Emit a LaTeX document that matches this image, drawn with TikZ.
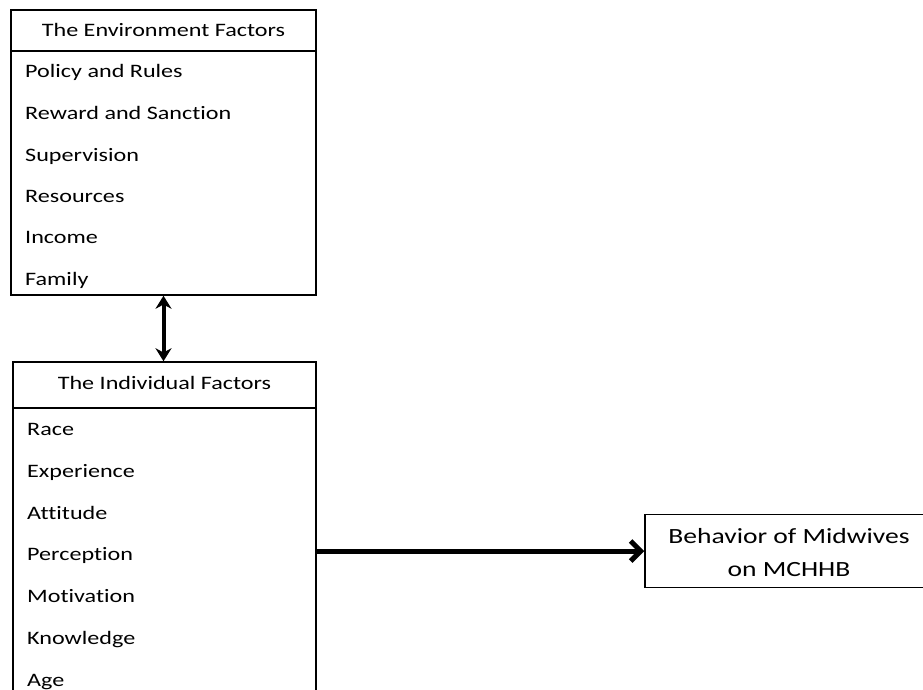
\documentclass[tikz,border=0pt]{standalone}
\usepackage{fontspec}
\setmainfont[FakeStretch=1.27,Ligatures={NoCommon}]{Carlito}
\usetikzlibrary{arrows.meta,calc}
\tikzset{
  boxline/.style={draw=black, line width=1.5pt},
  bigbox/.style={boxline, rectangle, inner sep=0pt},
  itemtext/.style={anchor=base west, inner sep=0pt, font=\fontsize{19}{22}\selectfont},
  headtext/.style={anchor=base, inner sep=0pt, font=\fontsize{19}{22}\selectfont},
  behtextstyle/.style={anchor=base, inner sep=0pt, font=\fontsize{21.7}{26}\selectfont},
  dblarrow/.style={line width=4pt, {Stealth[length=13pt,width=16pt]}-{Stealth[length=13pt,width=16pt]}},
  mainarrow/.style={line width=5pt, -{Straight Barb[length=10pt,width=20pt,line width=5pt]}},
}
\begin{document}
\begin{tikzpicture}[x=1pt,y=-1pt]
\useasboundingbox (0,0) rectangle (923,689);
\fill[white] (0,0) rectangle (923,689);
\clip (0,0) rectangle (923,689);
% Environment box
\node[bigbox, minimum width=305pt, minimum height=285pt] (env) at (163.5,152.5) {};
\coordinate (envsepL) at (11,51);
\coordinate (envsepR) at (316,51);
\draw[boxline] (envsepL) -- (envsepR);
\node[headtext] (envh) at (163.5,36) {The Environment Factors};
\node[itemtext] (e1) at (25,77) {Policy and Rules};
\node[itemtext] (e2) at (25,119) {Reward and Sanction};
\node[itemtext] (e3) at (25,161) {Supervision};
\node[itemtext] (e4) at (25,202) {Resources};
\node[itemtext] (e5) at (25,243) {Income};
\node[itemtext] (e6) at (25,285) {Family};
% Individual box
\node[bigbox, minimum width=303pt, minimum height=358pt] (ind) at (164.5,541) {};
\coordinate (indsepL) at (13,408);
\coordinate (indsepR) at (316,408);
\draw[boxline] (indsepL) -- (indsepR);
\node[headtext] (indh) at (164.5,389) {The Individual Factors};
\node[itemtext] (i1) at (27,435) {Race};
\node[itemtext] (i2) at (27,477) {Experience};
\node[itemtext] (i3) at (27,519) {Attitude};
\node[itemtext] (i4) at (27,560) {Perception};
\node[itemtext] (i5) at (27,602) {Motivation};
\node[itemtext] (i6) at (27,644) {Knowledge};
\node[itemtext] (i7) at (27,686) {Age};
% Behavior box
\node[bigbox, minimum width=290pt, minimum height=73pt] (beh) at (790,551) {};
\node[behtextstyle] (beh1) at (789,543) {Behavior of Midwives};
\node[behtextstyle] (beh2) at (789,576) {on MCHHB};
% Arrows
\draw[dblarrow] (env.south) -- (env.south |- ind.north);
\draw[mainarrow] (ind.east |- beh.west) -- (beh.west);
\end{tikzpicture}
\end{document}
